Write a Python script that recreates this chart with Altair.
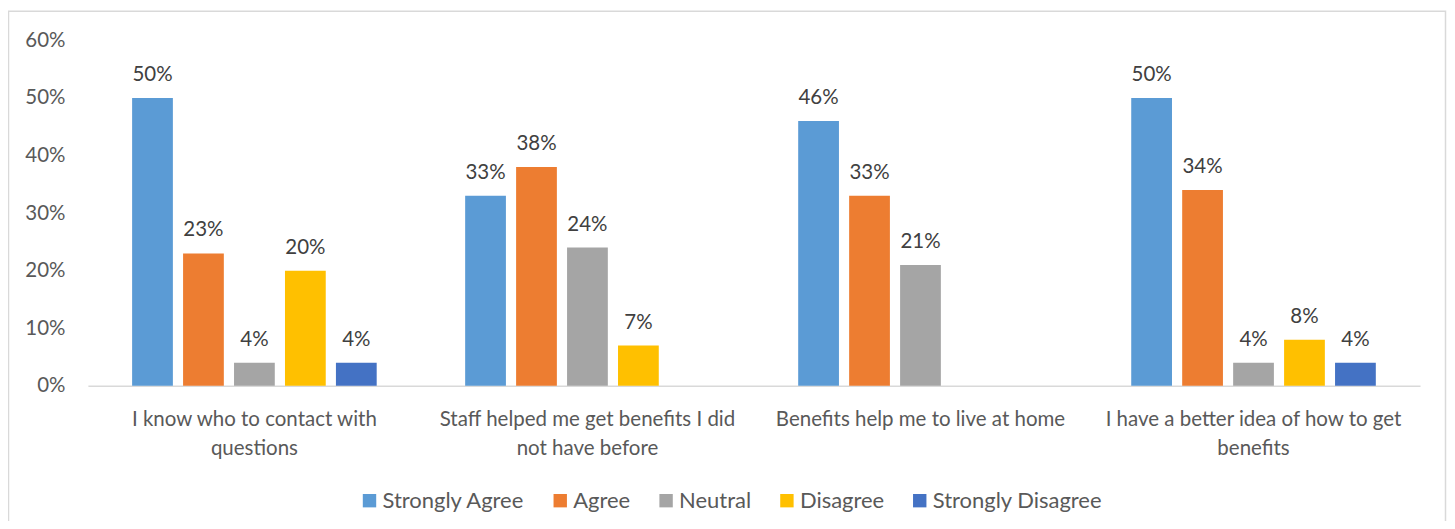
import altair as alt
import pandas as pd

categories = [
    "I know who to contact with questions",
    "Staff helped me get benefits I did not have before",
    "Benefits help me to live at home",
    "I have a better idea of how to get benefits",
]
wrapped = [
    ["I know who to contact with", "questions"],
    ["Staff helped me get benefits I did", "not have before"],
    ["Benefits help me to live at home"],
    ["I have a better idea of how to get", "benefits"],
]
series = ["Strongly Agree", "Agree", "Neutral", "Disagree", "Strongly Disagree"]
colors = ["#5B9BD5", "#ED7D31", "#A5A5A5", "#FFC000", "#4472C4"]

strongly_agree = [0.50, 0.33, 0.46, 0.50]
agree = [0.23, 0.38, 0.33, 0.34]
neutral = [0.04, 0.24, 0.21, 0.04]
disagree = [0.20, 0.07, None, 0.08]
strongly_disagree = [0.04, None, None, 0.04]

rows = []
for s, vals in zip(series, [strongly_agree, agree, neutral, disagree, strongly_disagree]):
    for c, v in zip(categories, vals):
        if v is not None:
            rows.append({"category": c, "series": s, "value": v})
df = pd.DataFrame(rows)

label_expr = ""
for c, w in zip(categories, wrapped):
    arr = "[" + ",".join("'" + p + "'" for p in w) + "]"
    label_expr += f"datum.label == '{c}' ? {arr} : "
label_expr += "datum.label"

FONT = "Lato"
W, H = 1334, 346

x_enc = alt.X(
    "category:N",
    sort=categories,
    title=None,
    scale=alt.Scale(paddingInner=0.235, paddingOuter=0.1175),
    axis=alt.Axis(
        labelAngle=0,
        labelExpr=label_expr,
        labelFont=FONT,
        labelFontSize=20.5,
        labelColor="#595959",
        labelPadding=24,
        labelLineHeight=29,
        labelLimit=400,
        ticks=False,
        domainColor="#D9D9D9",
        domainWidth=1.5,
        grid=False,
    ),
)
xoff = alt.XOffset(
    "series:N", sort=series, scale=alt.Scale(paddingInner=0.2, paddingOuter=0.1)
)
y_enc = alt.Y(
    "value:Q",
    title=None,
    scale=alt.Scale(domain=[0, 0.6]),
    axis=alt.Axis(
        format=".0%",
        values=[0, 0.1, 0.2, 0.3, 0.4, 0.5, 0.6],
        labelFont=FONT,
        labelFontSize=20.5,
        labelColor="#595959",
        labelPadding=23,
        ticks=False,
        domain=False,
        grid=False,
    ),
)
color_enc = alt.Color(
    "series:N",
    sort=series,
    scale=alt.Scale(domain=series, range=colors),
    legend=alt.Legend(
        title=None,
        orient="none",
        direction="horizontal",
        legendX=271,
        legendY=450,
        symbolType="square",
        symbolSize=180,
        symbolStrokeWidth=0,
        symbolOpacity=1,
        labelFont=FONT,
        labelFontSize=22,
        labelColor="#595959",
        labelLimit=400,
        columnPadding=24,
        labelOffset=2,
    ),
)

bars = alt.Chart(df).mark_bar().encode(x=x_enc, xOffset=xoff, y=y_enc, color=color_enc)
labels = alt.Chart(df).mark_text(
    baseline="bottom", dy=-13, font=FONT, fontSize=20.5, color="#404040"
).encode(
    x=alt.X("category:N", sort=categories),
    xOffset=alt.XOffset("series:N", sort=series),
    y="value:Q",
    text=alt.Text("value:Q", format=".0%"),
)
frame = alt.Chart(alt.Data(values=[{}])).mark_rect(
    fill="transparent", stroke="#D9D9D9", strokeWidth=1.5, clip=False
).encode(
    x=alt.value(-79.5), x2=alt.value(1359.5), y=alt.value(-29), y2=alt.value(500)
)

chart = (
    alt.layer(frame, bars, labels)
    .properties(
        width=W,
        height=H,
        autosize=alt.AutoSizeParams(type="none"),
        padding={"left": 80, "top": 32, "right": 27, "bottom": 135},
    )
    .configure(background="white", view=alt.ViewConfig(stroke="transparent", strokeWidth=0))
)

chart.save("out.html", embed_options={"renderer": "svg", "actions": False})
